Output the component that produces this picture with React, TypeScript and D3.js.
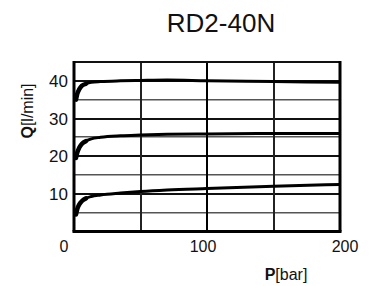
import React from 'react'
import * as d3 from 'd3'

const title = 'RD2-40N'
const xTicks = [0, 100, 200]
const yTicks = [10, 20, 30, 40]
const xGrid = [50, 100, 150]
const yGrid = [5, 10, 15, 20, 25, 30, 35, 40]

// pressure [bar] and flow [l/min]
const pressure = [1.5, 2.5, 4, 6, 9, 13, 20, 35, 50, 70, 100, 150, 200]
const flowHigh = [35, 36.6, 37.8, 38.7, 39.2, 39.6, 39.8, 40, 40.1, 40.2, 40, 39.8, 39.6]
const flowMid = [19.5, 21, 22.3, 23.3, 24, 24.6, 25, 25.4, 25.6, 25.8, 25.9, 26, 26]
const flowLow = [4.5, 6, 7.2, 8.1, 8.8, 9.3, 9.7, 10.2, 10.6, 11, 11.4, 12, 12.5]
const series = [flowHigh, flowMid, flowLow]

const W = 374
const H = 286
const left = 74
const right = 340
const plotTop = 62
const plotBottom = 231.5

export default function App() {
  const x = d3.scaleLinear().domain([0, 200]).range([left, right])
  const y = d3.scaleLinear().domain([0, 45]).range([plotBottom, plotTop])

  const line = d3
    .line<number>()
    .x((_, i) => x(pressure[i]))
    .y((d) => y(d))
    .curve(d3.curveMonotoneX)

  const font = 'Liberation Sans, Arial, sans-serif'

  return (
    <svg
      width={W}
      height={H}
      style={{ position: 'absolute', left: 0, top: 0, background: '#fff' }}
      fontFamily={font}
    >
      <text x={221} y={32} fontSize={26} textAnchor="middle" fill="#111">
        {title}
      </text>

      {/* grid, snapped to whole pixels */}
      <g className="hgrid">
        {yGrid.map((v) => (
          <rect
            key={'h' + v}
            x={left}
            y={Math.round(y(v)) - 1}
            width={right - left}
            height={v % 10 === 0 ? 2 : 1.5}
            fill={v % 10 === 0 ? '#111' : '#555'}
          />
        ))}
      </g>
      <g className="vgrid">
        {xGrid.map((v) => (
          <rect
            key={'v' + v}
            x={Math.round(x(v)) - 1}
            y={plotTop}
            width={2}
            height={plotBottom - plotTop}
            fill={v === 100 ? '#000' : '#222'}
          />
        ))}
      </g>

      {/* frame */}
      <rect x={left} y={plotTop - 1} width={right - left} height={2} fill="#111" />
      <rect x={left - 1.5} y={plotTop - 1} width={3} height={plotBottom - plotTop + 1} fill="#000" />
      <rect x={right - 1.5} y={plotTop - 1} width={3} height={plotBottom - plotTop + 1} fill="#000" />
      <rect x={left - 1.5} y={plotBottom - 1.5} width={right - left + 3} height={3} fill="#000" />

      {series.map((s, i) => (
        <g key={'s' + i}>
          <path d={line(s) || ''} fill="none" stroke="#000" strokeWidth={3} />
          <path
            d={line(s.slice(0, 5)) || ''}
            fill="none"
            stroke="#000"
            strokeWidth={4.5}
            strokeLinecap="round"
          />
        </g>
      ))}

      {yTicks.map((v) => (
        <text key={'yt' + v} x={68} y={y(v) + 6} fontSize={17} textAnchor="end" fill="#111">
          {v}
        </text>
      ))}
      {xTicks.map((v, i) => (
        <text
          key={'xt' + v}
          x={x(v) + (i === 0 ? -10 : i === xTicks.length - 1 ? 5 : -4)}
          y={252}
          fontSize={16}
          textAnchor="middle"
          fill="#111"
        >
          {v}
        </text>
      ))}

      <text
        transform={`translate(33,111) rotate(-90)`}
        fontSize={16}
        textAnchor="middle"
        fill="#111"
      >
        <tspan fontWeight="bold">Q</tspan>[l/min]
      </text>
      <text x={286} y={280} fontSize={16} textAnchor="middle" fill="#111">
        <tspan fontWeight="bold">P</tspan>[bar]
      </text>
    </svg>
  )
}
